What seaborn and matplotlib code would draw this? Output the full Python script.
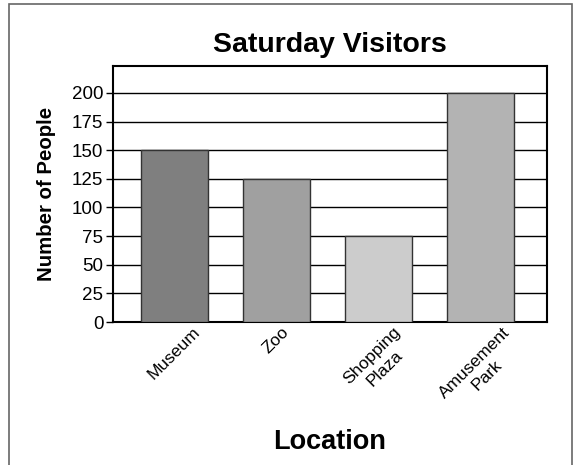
import matplotlib
matplotlib.use("Agg")
import matplotlib.pyplot as plt
import matplotlib.patches as mpatches
import seaborn as sns
import pandas as pd

# ===== Data =====
locations = ["Museum", "Zoo", "Shopping\nPlaza", "Amusement\nPark"]
visitors = [150, 125, 75, 200]
bar_colors = ["#7f7f7f", "#a0a0a0", "#cccccc", "#b3b3b3"]
y_ticks = [0, 25, 50, 75, 100, 125, 150, 175, 200]

df = pd.DataFrame({"Location": locations, "People": visitors})

sns.set_style("white")
plt.rcParams["font.family"] = ["Liberation Sans", "DejaVu Sans"]
plt.rcParams["text.color"] = "black"
plt.rcParams["axes.labelcolor"] = "black"
plt.rcParams["xtick.color"] = "black"
plt.rcParams["ytick.color"] = "black"

fig = plt.figure(figsize=(5.75, 4.65), dpi=100)
ax = fig.add_axes([113 / 575, 1 - 322 / 465, 434 / 575, 256 / 465])

sns.barplot(data=df, x="Location", y="People", hue="Location", palette=bar_colors,
            legend=False, width=0.66, edgecolor="#333333", linewidth=1, ax=ax, zorder=3)

ax.set_xlim(-0.6, 3.65)
ax.set_ylim(0, 223.5)
ax.set_yticks(y_ticks)
ax.set_yticklabels([str(t) for t in y_ticks], fontsize=13.5)
for t in y_ticks[1:]:
    ax.axhline(t, color="black", linewidth=1, zorder=1)

ax.tick_params(axis="y", length=5, width=1, color="black", left=True, pad=2)
ax.tick_params(axis="x", length=0, pad=2)
ax.set_xticks(range(len(locations)))
ax.set_xticklabels(locations, rotation=45, ha="center", fontsize=12.5)

for s in ax.spines.values():
    s.set_visible(True)
    s.set_color("black")
    s.set_linewidth(1.5)

ax.set_title("Saturday Visitors", fontsize=20.5, fontweight="bold", pad=10)
ax.set_xlabel("Location", fontsize=19.5, fontweight="bold", labelpad=11)
ax.set_ylabel("Number of People", fontsize=14.7, fontweight="bold", labelpad=11)

# outer frame
fig.patches.append(mpatches.Rectangle((9 / 575, -0.1), 563 / 575, 1 - 4 / 465 + 0.1,
                                      transform=fig.transFigure, fill=False,
                                      edgecolor="#666666", linewidth=1.2))

fig.savefig("out.png", dpi=100)
